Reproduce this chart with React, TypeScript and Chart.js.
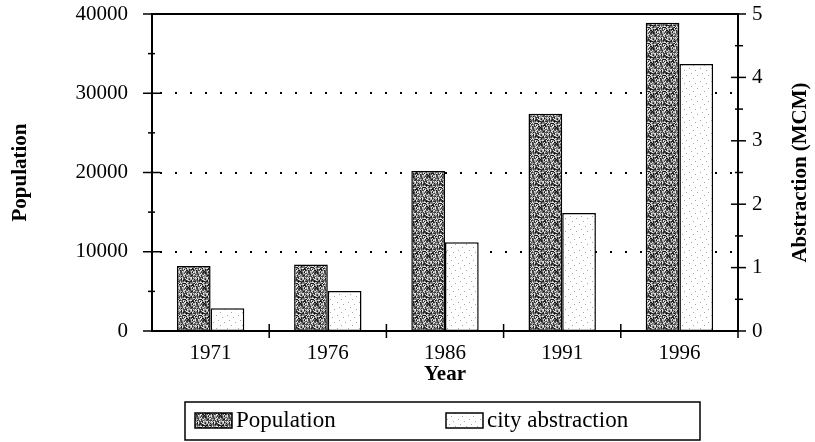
import React, { useEffect, useRef } from 'react';
import { Chart, registerables } from 'chart.js';

Chart.register(...registerables);

// ---- data ----
const years = ['1971', '1976', '1986', '1991', '1996'];
const population = [8200, 8400, 20200, 27400, 38900];
const cityAbstraction = [0.36, 0.63, 1.4, 1.86, 4.21]; // MCM
const populationLabelStep = 10000;
const abstractionLabelStep = 1;
const seriesNames = ['Population', 'city abstraction'];
const axisTitles = { x: 'Year', y: 'Population', y1: 'Abstraction (MCM)' };

const FONT = "'Liberation Serif', 'Times New Roman', serif";

function makePattern(w: number, h: number, fn: (x: number, y: number) => number) {
  const c = document.createElement('canvas');
  c.width = w;
  c.height = h;
  const g = c.getContext('2d')!;
  const img = g.createImageData(w, h);
  for (let y = 0; y < h; y++) {
    for (let x = 0; x < w; x++) {
      const v = fn(x, y);
      const i = (y * w + x) * 4;
      img.data[i] = v;
      img.data[i + 1] = v;
      img.data[i + 2] = v;
      img.data[i + 3] = 255;
    }
  }
  g.putImageData(img, 0, 0);
  return g.createPattern(c, 'repeat')!;
}

const popShades = [25, 70, 120, 175, 230];

export default function App() {
  const ref = useRef<HTMLCanvasElement>(null);

  useEffect(() => {
    document.body.style.margin = '0';
    const canvas = ref.current!;
    const popPattern = makePattern(16, 16, (x, y) => {
      const h = (((x * 73856093) ^ (y * 19349663) ^ ((x + y) * 83492791)) >>> 0) % 5;
      return popShades[h];
    });
    const absPattern = makePattern(11, 13, (x, y) => ((x * 7 + y * 3) % 29 === 0 ? 165 : 255));

    const zeroPad = (s: any) => {
      s.paddingTop = 0;
      s.paddingBottom = 0;
    };

    const decor = {
      id: 'decor',
      beforeDatasetsDraw(chart: any) {
        const { ctx, chartArea: ca, scales } = chart;
        ctx.save();
        ctx.strokeStyle = '#000';
        ctx.lineWidth = 2;
        ctx.setLineDash([2, 13]);
        scales.y.ticks.forEach((t: any) => {
          if (t.value % populationLabelStep === 0 && t.value > scales.y.min && t.value < scales.y.max) {
            const py = Math.round(scales.y.getPixelForValue(t.value));
            ctx.beginPath();
            ctx.moveTo(ca.left + 8, py);
            ctx.lineTo(ca.right, py);
            ctx.stroke();
          }
        });
        ctx.restore();
      },
      afterDraw(chart: any) {
        const { ctx, chartArea: ca, scales } = chart;
        ctx.save();
        ctx.strokeStyle = '#000';
        const line = (x1: number, y1: number, x2: number, y2: number, w: number) => {
          ctx.lineWidth = w;
          ctx.beginPath();
          ctx.moveTo(x1, y1);
          ctx.lineTo(x2, y2);
          ctx.stroke();
        };
        // top border
        line(ca.left, ca.top, ca.right, ca.top, 2);
        // left ticks
        scales.y.ticks.forEach((t: any) => {
          const py = scales.y.getPixelForValue(t.value);
          const major = t.value % populationLabelStep === 0;
          line(ca.left - (major ? 9 : 4), py, ca.left + (major ? 8 : 3), py, 1.5);
        });
        // right ticks
        scales.y1.ticks.forEach((t: any) => {
          const py = scales.y1.getPixelForValue(t.value);
          const major = Math.abs(t.value / abstractionLabelStep - Math.round(t.value / abstractionLabelStep)) < 1e-6;
          line(ca.right - (major ? 7 : 3), py, ca.right + (major ? 8 : 5), py, 1.5);
        });
        // x ticks at category boundaries
        const half = (scales.x.getPixelForValue(1) - scales.x.getPixelForValue(0)) / 2;
        for (let i = 0; i < years.length; i++) {
          const px = scales.x.getPixelForValue(i) + half;
          line(px, ca.bottom - 7, px, ca.bottom + 7, 1.5);
        }
        // right axis title (reads bottom to top)
        ctx.fillStyle = '#000';
        ctx.font = `bold 21px ${FONT}`;
        ctx.textAlign = 'center';
        ctx.textBaseline = 'middle';
        ctx.save();
        ctx.translate(ca.right + 63, (ca.top + ca.bottom) / 2);
        ctx.rotate(-Math.PI / 2);
        ctx.fillText(axisTitles.y1, 0, 0);
        ctx.restore();

        // legend
        const lx = ca.left + 33;
        const ly = ca.bottom + 71;
        const lw = 515;
        const lh = 38;
        ctx.lineWidth = 1.5;
        ctx.strokeRect(lx, ly, lw, lh);
        const items = [
          { x: lx + 10, text: seriesNames[0], fill: popPattern },
          { x: lx + 261, text: seriesNames[1], fill: absPattern },
        ];
        ctx.font = `23px ${FONT}`;
        ctx.textAlign = 'left';
        items.forEach((it) => {
          ctx.fillStyle = it.fill;
          ctx.fillRect(it.x, ly + 11, 37, 15);
          ctx.lineWidth = 1.5;
          ctx.strokeRect(it.x, ly + 11, 37, 15);
          ctx.fillStyle = '#000';
          ctx.fillText(it.text, it.x + 41, ly + 19);
        });
        ctx.restore();
      },
    };

    const chart = new Chart(canvas, {
      type: 'bar',
      data: {
        labels: years,
        datasets: [
          {
            label: seriesNames[0],
            data: population,
            yAxisID: 'y',
            backgroundColor: popPattern as any,
            borderColor: '#000',
            borderWidth: 1.5,
            borderSkipped: false,
            categoryPercentage: 0.575,
            barPercentage: 1,
          },
          {
            label: seriesNames[1],
            data: cityAbstraction,
            yAxisID: 'y1',
            backgroundColor: absPattern as any,
            borderColor: '#000',
            borderWidth: 1.5,
            borderSkipped: false,
            categoryPercentage: 0.575,
            barPercentage: 1,
          },
        ],
      },
      options: {
        responsive: false,
        animation: false,
        events: [],
        layout: { padding: { top: 14, bottom: 55, left: 0, right: 0 } },
        plugins: {
          legend: { display: false },
          tooltip: { enabled: false },
        },
        scales: {
          x: {
            grid: { display: false, drawTicks: false },
            border: { display: true, color: '#000', width: 2 },
            ticks: { color: '#000', font: { family: FONT, size: 21 }, padding: 10 },
            title: {
              display: true,
              text: axisTitles.x,
              color: '#000',
              font: { family: FONT, size: 21, weight: 'bold' },
              padding: { top: 0, bottom: 0 },
            },
            afterFit: (s: any) => {
              s.height = 56;
            },
          },
          y: {
            position: 'left',
            min: 0,
            max: 40000,
            ticks: {
              stepSize: 5000,
              color: '#000',
              font: { family: FONT, size: 21 },
              padding: 24,
              callback: (v: any) => (v % populationLabelStep === 0 ? String(v) : ''),
            },
            grid: { display: false, drawTicks: false },
            border: { display: true, color: '#000', width: 2 },
            title: {
              display: true,
              text: axisTitles.y,
              color: '#000',
              font: { family: FONT, size: 21, weight: 'bold' },
              padding: { top: 8, bottom: 0 },
            },
            afterFit: (s: any) => {
              s.width = 152;
              zeroPad(s);
            },
          },
          y1: {
            position: 'right',
            min: 0,
            max: 5,
            ticks: {
              stepSize: 0.5,
              color: '#000',
              font: { family: FONT, size: 21 },
              padding: 14,
              callback: (v: any) => (Number.isInteger(v / abstractionLabelStep) ? String(v) : ''),
            },
            grid: { display: false, drawTicks: false },
            border: { display: true, color: '#000', width: 2 },
            afterFit: (s: any) => {
              s.width = 77;
              zeroPad(s);
            },
          },
        },
      },
      plugins: [decor],
    });
    return () => chart.destroy();
  }, []);

  return (
    <div style={{ width: 815, height: 442 }}>
      <canvas ref={ref} width={815} height={442} style={{ display: 'block', width: 815, height: 442 }} />
    </div>
  );
}
